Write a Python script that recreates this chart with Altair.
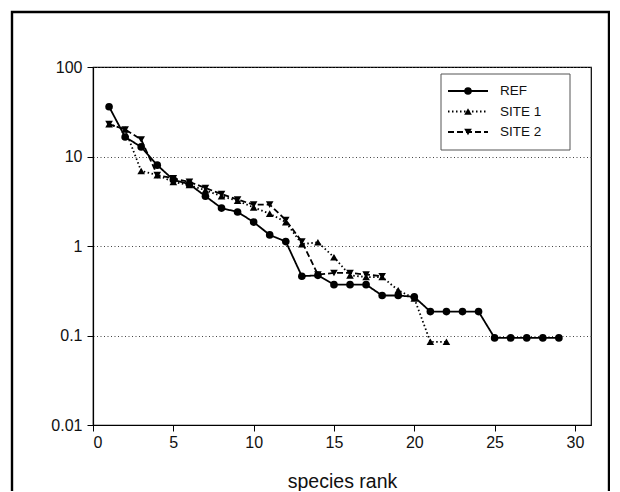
import altair as alt
import pandas as pd

series_names = ["REF", "SITE 1", "SITE 2"]

ref_values = [36, 16.5, 12.8, 8.0, 5.5, 4.9, 3.6, 2.65, 2.4, 1.85, 1.33, 1.12,
              0.46, 0.47, 0.37, 0.37, 0.37, 0.28, 0.28, 0.27, 0.185, 0.185,
              0.185, 0.185, 0.094, 0.094, 0.094, 0.094, 0.094]
site1_values = [23, 20, 6.9, 6.2, 5.2, 4.8, 4.2, 3.6, 3.2, 2.7, 2.3, 1.85,
                1.05, 1.1, 0.75, 0.47, 0.45, 0.45, 0.32, 0.26, 0.085, 0.085]
site2_values = [23, 20, 15.5, 6.2, 5.7, 5.2, 4.45, 3.8, 3.3, 2.9, 2.9, 1.95,
                1.12, 0.48, 0.5, 0.5, 0.48, 0.46]

x_ticks = [0, 5, 10, 15, 20, 25, 30]
y_ticks = [0.01, 0.1, 1, 10, 100]

rows = []
for name, vals in zip(series_names, [ref_values, site1_values, site2_values]):
    for i, v in enumerate(vals):
        rows.append({"series": name, "rank": i + 1, "value": v})
df = pd.DataFrame(rows)
legend_df = pd.DataFrame({"series": series_names})

FONT = "Liberation Sans"

dash_scale = alt.Scale(domain=series_names, range=[[1, 0], [1.5, 2.5], [6, 3]])
shape_scale = alt.Scale(domain=series_names,
                        range=["circle", "triangle-up", "triangle-down"])

x_enc = alt.X("rank:Q", scale=alt.Scale(domain=[0, 31], nice=False),
              axis=alt.Axis(values=x_ticks, title="species rank", grid=False,
                            tickSize=6, labelPadding=3, titlePadding=22.5,
                            labelFontSize=16, titleFontSize=19.5,
                            titleFontWeight="normal"))
y_enc = alt.Y("value:Q", scale=alt.Scale(type="log", domain=[0.01, 100], nice=False),
              axis=alt.Axis(values=y_ticks, format="~g", title=None, grid=True,
                            gridDash=[1, 2.5], gridColor="#444", gridWidth=1,
                            tickSize=6, labelPadding=5, labelFontSize=16))

lines = alt.Chart(df).mark_line(color="black", strokeWidth=1.8).encode(
    x=x_enc, y=y_enc,
    strokeDash=alt.StrokeDash("series:N", scale=dash_scale, legend=None),
    detail="series:N",
)
points = alt.Chart(df).mark_point(filled=True, color="black", opacity=1, size=58).encode(
    x="rank:Q", y="value:Q",
    shape=alt.Shape("series:N", scale=shape_scale, legend=None),
)
main = alt.layer(lines, points)

# legend (drawn as marks)
leg_y = alt.Y("series:N", scale=alt.Scale(type="point", domain=series_names,
                                          range=[24, 65], padding=0), axis=None)
leg_box = alt.Chart(pd.DataFrame({"f": [0]})).mark_rect(
    fill="white", stroke="#555", strokeWidth=1
).encode(x=alt.value(348), x2=alt.value(477), y=alt.value(7), y2=alt.value(83))
leg_rule = alt.Chart(legend_df).mark_rule(color="black", strokeWidth=1.8).encode(
    x=alt.value(355), x2=alt.value(395), y=leg_y,
    strokeDash=alt.StrokeDash("series:N", scale=dash_scale, legend=None),
)
leg_pts = alt.Chart(legend_df).mark_point(filled=True, color="black", opacity=1, size=58).encode(
    x=alt.value(375), y=leg_y,
    shape=alt.Shape("series:N", scale=shape_scale, legend=None),
)
leg_text = alt.Chart(legend_df).mark_text(
    align="left", baseline="middle", font=FONT, fontSize=13.5, color="#111"
).encode(x=alt.value(407), y=leg_y, text="series:N")
legend = alt.layer(leg_box, leg_rule, leg_pts, leg_text)

frame = alt.Chart(pd.DataFrame({"f": [0]})).mark_rect(
    fill=None, stroke="black", strokeWidth=2.4
).encode(x=alt.value(-81), x2=alt.value(516), y=alt.value(-55), y2=alt.value(450))

chart = alt.layer(frame, main, legend).resolve_scale(y="independent").properties(
    width=498, height=358,
    autosize=alt.AutoSizeParams(type="none"),
    padding={"left": 85, "top": 59, "right": 19, "bottom": 66},
    background="white",
).configure_view(stroke="black", strokeWidth=1.2).configure_axis(
    labelFont=FONT, titleFont=FONT, labelColor="#111", titleColor="#111",
    domainColor="black", tickColor="black", domainWidth=1.2,
)

chart.save("out.html", embed_options={"renderer": "svg", "actions": False})
